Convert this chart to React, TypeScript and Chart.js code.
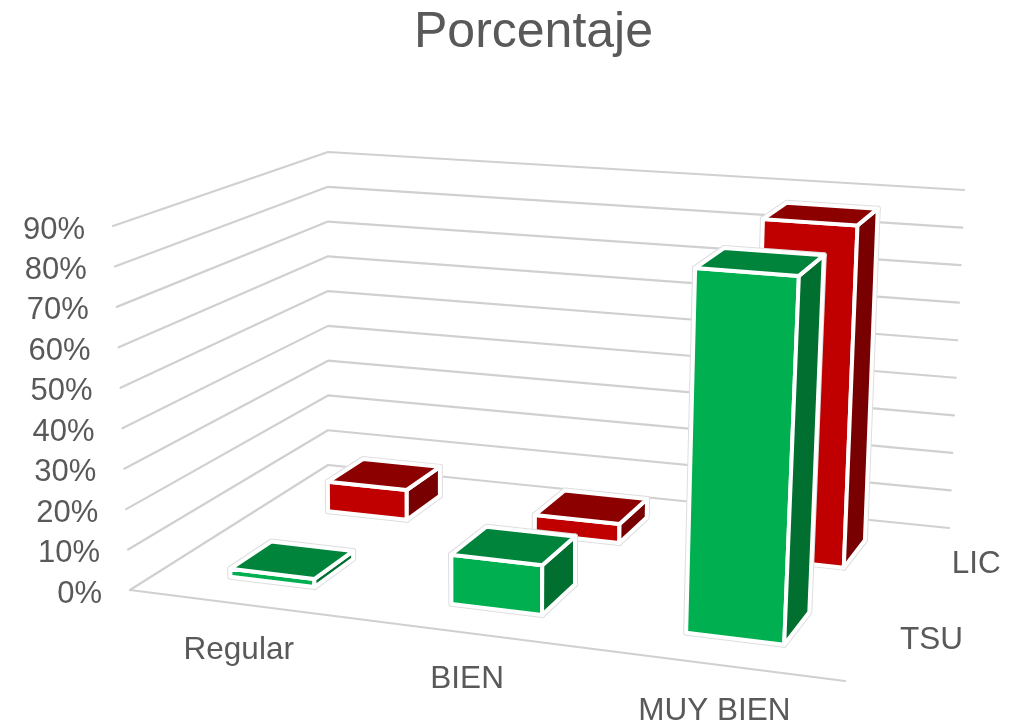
import React, { useEffect, useRef } from "react";
import { Chart, registerables } from "chart.js";
Chart.register(...registerables);

const categories = ["Regular", "BIEN", "MUY BIEN"];
const seriesNames = ["TSU", "LIC"];
const tsuValues = [0.02, 0.12, 0.865];
const licValues = [0.08, 0.05, 0.87];
const tickValues = [0, 0.1, 0.2, 0.3, 0.4, 0.5, 0.6, 0.7, 0.8, 0.9];
const tickLabels = ["0%", "10%", "20%", "30%", "40%", "50%", "60%", "70%", "80%", "90%"];
const AXIS_MAX = 0.9;

// Projection frame of the 3D box: screen corners FL, FR, BL, BR of the floor and the ceiling
const FLOOR = [[130, 590], [845, 681], [328, 465], [949, 528]];
const CEILING = [[113, 226], [866, 284], [328, 152], [964, 190]];
const BAR_W = 0.39; // fraction of category cell
const BAR_D = 0.40; // fraction of series cell
const CELL_SHIFT = [0.012, 0.014, 0]; // perspective correction of the category cell centres

function solve(A: number[][], b: number[]) {
  const n = b.length;
  const M = A.map((r, i) => [...r, b[i]]);
  for (let i = 0; i < n; i++) {
    let p = i;
    for (let k = i + 1; k < n; k++) if (Math.abs(M[k][i]) > Math.abs(M[p][i])) p = k;
    [M[i], M[p]] = [M[p], M[i]];
    for (let k = 0; k < n; k++) {
      if (k === i) continue;
      const f = M[k][i] / M[i][i];
      for (let j = i; j <= n; j++) M[k][j] -= f * M[i][j];
    }
  }
  return M.map((r, i) => r[n] / r[i]);
}

function homography(quad: number[][]) {
  const UV = [[0, 0], [1, 0], [0, 1], [1, 1]];
  const A: number[][] = [];
  const B: number[] = [];
  UV.forEach(([u, v], i) => {
    const [x, y] = quad[i];
    A.push([u, v, 1, 0, 0, 0, -u * x, -v * x]);
    B.push(x);
    A.push([0, 0, 0, u, v, 1, -u * y, -v * y]);
    B.push(y);
  });
  const H = solve(A, B);
  return (u: number, v: number) => {
    const c = H[6] * u + H[7] * v + 1;
    return [(H[0] * u + H[1] * v + H[2]) / c, (H[3] * u + H[4] * v + H[5]) / c];
  };
}
const floorAt = homography(FLOOR);
const ceilingAt = homography(CEILING);

function project(u: number, v: number, value: number) {
  const w = value / AXIS_MAX;
  const a = floorAt(u, v);
  const b = ceilingAt(u, v);
  return { x: a[0] + (b[0] - a[0]) * w, y: a[1] + (b[1] - a[1]) * w };
}

const COLORS = [
  { front: "#00B050", top: "#00843C", side: "#006F30" },
  { front: "#C00000", top: "#8C0000", side: "#790000" },
];
const GRID = "#D0D0D0";

function poly(points: { x: number; y: number }[], fillColor: string, border: string, width: number) {
  return {
    data: points,
    showLine: true,
    fill: fillColor === "none" ? false : "shape",
    backgroundColor: fillColor === "none" ? "transparent" : fillColor,
    borderColor: border,
    borderWidth: width,
    borderJoinStyle: "round",
    borderCapStyle: "round",
    pointRadius: 0,
    tension: 0,
    clip: false,
  };
}

function buildDatasets() {
  const sets: any[] = [];
  // gridlines (left wall + back wall)
  tickValues.forEach((t) => {
    sets.push(poly([project(0, 0, t), project(0, 1, t), project(1, 1, t)], "none", GRID, 2.2));
  });
  sets.push(poly([project(0, 0, 0), project(1, 0, 0)], "none", GRID, 2.2));
  // bars, back to front
  [licValues, tsuValues].forEach((values, k) => {
    const row = k === 0 ? 1 : 0;
    const c = COLORS[row];
    values.forEach((val, i) => {
      const centre = i + 0.5 + CELL_SHIFT[i];
      const u0 = (centre - BAR_W / 2) / 3;
      const u1 = (centre + BAR_W / 2) / 3;
      const v0 = (row + 0.5 - BAR_D / 2) / 2;
      const v1 = (row + 0.5 + BAR_D / 2) / 2;
      const front = [project(u0, v0, 0), project(u1, v0, 0), project(u1, v0, val), project(u0, v0, val), project(u0, v0, 0)];
      const side = [project(u1, v0, 0), project(u1, v1, 0), project(u1, v1, val), project(u1, v0, val), project(u1, v0, 0)];
      const top = [project(u0, v0, val), project(u1, v0, val), project(u1, v1, val), project(u0, v1, val), project(u0, v0, val)];
      [front, side, top].forEach((f) => sets.push(poly(f, "none", "#DEDEDE", 6)));
      sets.push(poly(front, c.front, "#FFFFFF", 4));
      sets.push(poly(side, c.side, "#FFFFFF", 4));
      sets.push(poly(top, c.top, "#FFFFFF", 4));
    });
  });
  return sets.reverse();
}

const labelsPlugin = {
  id: "labels3d",
  afterDatasetsDraw(chart: any) {
    const { ctx, scales } = chart;
    const px = (p: { x: number; y: number }) => ({ x: scales.x.getPixelForValue(p.x), y: scales.y.getPixelForValue(p.y) });
    ctx.save();
    ctx.fillStyle = "#595959";
    ctx.textBaseline = "middle";
    ctx.font = '31px "Liberation Sans"';
    ctx.textAlign = "right";
    tickValues.forEach((t, i) => {
      const p = px(project(0, 0, t));
      ctx.fillText(tickLabels[i], p.x - 28, p.y + 4);
    });
    ctx.font = '31.5px "Liberation Sans"';
    ctx.textAlign = "center";
    categories.forEach((name, i) => {
      const p = px(project((i + 0.5) / 3, 0, 0));
      ctx.fillText(name, p.x + 1, p.y + 47);
    });
    ctx.textAlign = "left";
    seriesNames.forEach((name, j) => {
      const p = px(project(1, (j + 0.5) / 2, 0));
      ctx.fillText(name, p.x + 25.5, p.y + 3);
    });
    ctx.restore();
  },
};

export default function App() {
  const ref = useRef<HTMLCanvasElement>(null);
  useEffect(() => {
    const chart = new Chart(ref.current!, {
      type: "scatter",
      data: { datasets: buildDatasets() },
      options: {
        responsive: false,
        animation: false,
        devicePixelRatio: 1,
        layout: { padding: { left: 42, right: 0, top: 0, bottom: 0 } },
        scales: {
          x: { type: "linear", display: false, min: 42, max: 1025 },
          y: { type: "linear", display: false, min: 63, max: 724, reverse: true },
        },
        plugins: {
          legend: { display: false },
          tooltip: { enabled: false },
          title: {
            display: true,
            text: "Porcentaje",
            fullSize: false,
            color: "#595959",
            font: { family: '"Liberation Sans"', size: 50, weight: "normal" },
            padding: { top: 3, bottom: 0 },
          },
        },
      },
      plugins: [labelsPlugin],
    } as any);
    return () => chart.destroy();
  }, []);
  return (
    <div style={{ position: "absolute", left: 0, top: 0, width: 1025, height: 724, background: "#fff" }}>
      <canvas ref={ref} width={1025} height={724} style={{ display: "block" }} />
    </div>
  );
}
